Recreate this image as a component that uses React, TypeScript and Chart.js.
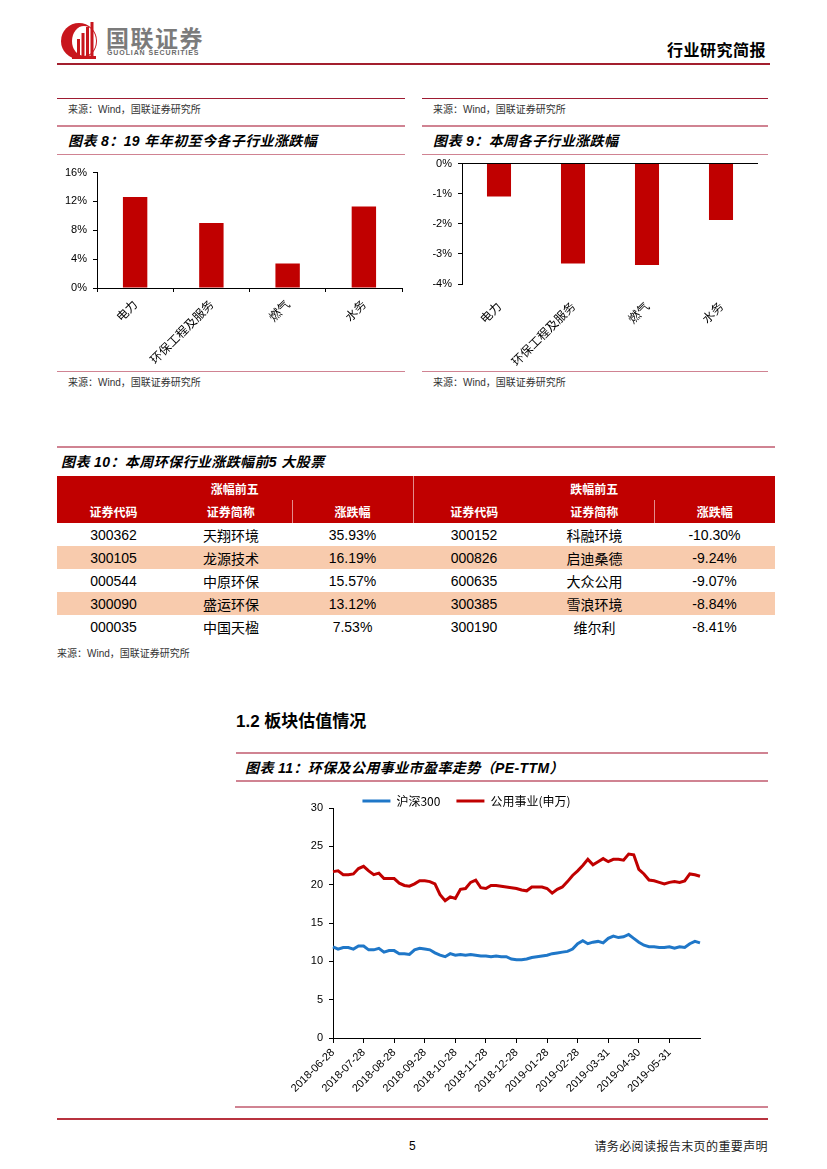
import React, { useEffect, useRef } from 'react';
import { Chart, registerables } from 'chart.js';

Chart.register(...registerables);

const LATIN = '"Liberation Sans", Arial, sans-serif';
const CJK = '"Noto Sans CJK SC", "Liberation Sans", sans-serif';
const MIX = '"Liberation Sans", Arial, "Noto Sans CJK SC", sans-serif';

// ---------- Figure 8: YTD change by sub-industry (%) ----------
const ytdCategories = ['电力', '环保工程及服务', '燃气', '水务'];
const ytdChange = [12.6, 9.0, 3.4, 11.3];

// ---------- Figure 9: this week change by sub-industry (%) ----------
const weekCategories = ['电力', '环保工程及服务', '燃气', '水务'];
const weekChange = [-1.09, -3.32, -3.37, -1.87];

// ---------- Figure 10: top 5 gainers / losers ----------
const gainCodes = ['300362', '300105', '000544', '300090', '000035'];
const gainNames = ['天翔环境', '龙源技术', '中原环保', '盛运环保', '中国天楹'];
const gainPct = ['35.93%', '16.19%', '15.57%', '13.12%', '7.53%'];
const lossCodes = ['300152', '000826', '600635', '300385', '300190'];
const lossNames = ['科融环境', '启迪桑德', '大众公用', '雪浪环境', '维尔利'];
const lossPct = ['-10.30%', '-9.24%', '-9.07%', '-8.84%', '-8.41%'];

// ---------- Figure 11: PE-TTM ----------
const peTickDates = [
  '2018-06-28', '2018-07-28', '2018-08-28', '2018-09-28', '2018-10-28', '2018-11-28',
  '2018-12-28', '2019-01-28', '2019-02-28', '2019-03-31', '2019-04-30', '2019-05-31',
];
const POINTS_PER_TICK = 6;
const hs300PE = [
  11.9, 11.6, 11.8, 11.8, 11.6, 12.0, 12.0, 11.5, 11.5, 11.7,
  11.2, 11.4, 11.4, 11.0, 11.0, 10.9, 11.5, 11.7, 11.6, 11.5,
  11.1, 10.8, 10.6, 11.0, 10.8, 10.9, 10.8, 10.9, 10.8, 10.7,
  10.7, 10.6, 10.7, 10.6, 10.6, 10.3, 10.2, 10.2, 10.3, 10.5,
  10.6, 10.7, 10.8, 11.0, 11.1, 11.2, 11.3, 11.6, 12.3, 12.7,
  12.3, 12.5, 12.6, 12.4, 13.0, 13.3, 13.1, 13.2, 13.5, 13.0,
  12.5, 12.1, 11.9, 11.9, 11.8, 11.8, 11.9, 11.7, 11.9, 11.8,
  12.3, 12.6, 12.4,
];
const utilitiesPE = [
  21.7, 21.8, 21.3, 21.3, 21.4, 22.1, 22.4, 21.8, 21.3, 21.5,
  20.8, 20.8, 20.8, 20.2, 19.9, 19.8, 20.1, 20.5, 20.5, 20.4,
  20.1, 18.7, 17.9, 18.4, 18.2, 19.4, 19.5, 20.3, 20.6, 19.6,
  19.5, 19.9, 19.9, 19.8, 19.7, 19.6, 19.5, 19.3, 19.2, 19.7,
  19.7, 19.7, 19.5, 18.9, 19.4, 19.7, 20.4, 21.2, 21.8, 22.5,
  23.3, 22.6, 23.0, 23.4, 23.0, 23.3, 23.3, 23.2, 24.0, 23.9,
  22.0, 21.4, 20.6, 20.5, 20.3, 20.1, 20.3, 20.4, 20.3, 20.5,
  21.4, 21.3, 21.1,
];
const peLabels = hs300PE.map((_, i) =>
  i % POINTS_PER_TICK === 0 && peTickDates[i / POINTS_PER_TICK] ? peTickDates[i / POINTS_PER_TICK] : ''
);

const RED = '#C00000';
const BLUE = '#1F77C8';
const PINK = '#D08392';
const MAROON = '#9E1B32';

function ChartBox(props: { make: () => any; left: number; top: number; width: number; height: number }) {
  const ref = useRef<HTMLCanvasElement | null>(null);
  useEffect(() => {
    const chart = new Chart(ref.current as HTMLCanvasElement, props.make());
    return () => chart.destroy();
  }, []);
  return (
    <canvas
      ref={ref}
      width={props.width}
      height={props.height}
      style={{ position: 'absolute', left: props.left, top: props.top, width: props.width, height: props.height }}
    />
  );
}

const ytdConfig = () => ({
  type: 'bar',
  data: {
    labels: ytdCategories,
    datasets: [{ data: ytdChange, backgroundColor: RED, categoryPercentage: 1, barPercentage: 0.32 }],
  },
  options: {
    animation: false,
    responsive: false,
    maintainAspectRatio: false,
    layout: { padding: { top: 12, right: 3, left: 0, bottom: 0 } },
    plugins: { legend: { display: false }, tooltip: { enabled: false } },
    scales: {
      x: {
        grid: { offset: true, drawOnChartArea: false, tickLength: 4, color: '#000' },
        border: { color: '#000' },
        ticks: { minRotation: 45, maxRotation: 45, color: '#000', font: { family: CJK, size: 12 }, padding: 5 },
        afterFit: (s: any) => { s.height = 80; },
      },
      y: {
        min: 0,
        max: 16,
        ticks: { stepSize: 4, callback: (v: any) => v + '%', color: '#000', font: { family: LATIN, size: 11 }, padding: 6 },
        grid: { drawOnChartArea: false, tickLength: 4, color: '#000' },
        border: { color: '#000' },
        afterFit: (s: any) => { s.width = 40; },
      },
    },
  },
});

const weekConfig = () => ({
  type: 'bar',
  data: {
    labels: weekCategories,
    datasets: [{ data: weekChange, backgroundColor: RED, categoryPercentage: 1, barPercentage: 0.325 }],
  },
  options: {
    animation: false,
    responsive: false,
    maintainAspectRatio: false,
    layout: { padding: { top: 0, right: 10, left: 0, bottom: 0 } },
    plugins: { legend: { display: false }, tooltip: { enabled: false } },
    scales: {
      x: {
        grid: { display: false, drawTicks: false },
        border: { display: false },
        ticks: { minRotation: 45, maxRotation: 45, color: '#000', font: { family: CJK, size: 12 }, padding: 15 },
        afterFit: (s: any) => { s.height = 84; },
      },
      y: {
        min: -4,
        max: 0,
        ticks: { stepSize: 1, callback: (v: any) => v + '%', color: '#000', font: { family: LATIN, size: 11 }, padding: 6 },
        grid: {
          drawOnChartArea: true,
          tickLength: 4,
          color: (ctx: any) => (ctx.tick && ctx.tick.value === 0 ? '#000' : 'rgba(0,0,0,0)'),
          tickColor: '#000',
        },
        border: { color: '#000' },
        afterFit: (s: any) => { s.width = 40; },
      },
    },
  },
});

const peConfig = () => ({
  type: 'line',
  data: {
    labels: peLabels,
    datasets: [
      { label: '沪深300', data: hs300PE, borderColor: BLUE, backgroundColor: BLUE, borderWidth: 3, pointRadius: 0, tension: 0 },
      { label: '公用事业(申万)', data: utilitiesPE, borderColor: RED, backgroundColor: RED, borderWidth: 3, pointRadius: 0, tension: 0 },
    ],
  },
  options: {
    animation: false,
    responsive: false,
    maintainAspectRatio: false,
    layout: { padding: { top: 0, right: 68, left: 0, bottom: 0 } },
    plugins: {
      tooltip: { enabled: false },
      legend: {
        display: true,
        position: 'top',
        maxHeight: 29,
        labels: {
          usePointStyle: true,
          pointStyle: 'line',
          pointStyleWidth: 28,
          padding: 16,
          color: '#000',
          font: { family: CJK, size: 12 },
        },
      },
    },
    scales: {
      x: {
        grid: {
          drawOnChartArea: false,
          tickLength: 5,
          color: (ctx: any) => (peLabels[ctx.index] ? '#000' : 'rgba(0,0,0,0)'),
        },
        border: { color: '#000' },
        ticks: { autoSkip: false, minRotation: 45, maxRotation: 45, color: '#000', font: { family: LATIN, size: 11 }, padding: 3 },
        afterFit: (s: any) => { s.height = 62; },
      },
      y: {
        min: 0,
        max: 30,
        ticks: { stepSize: 5, color: '#000', font: { family: LATIN, size: 11 }, padding: 6 },
        grid: { drawOnChartArea: false, tickLength: 4, color: '#000' },
        border: { color: '#000' },
        afterFit: (s: any) => { s.width = 100; },
      },
    },
  },
});

function HLine(p: { x: number; y: number; w: number; h?: number; c: string }) {
  return <div style={{ position: 'absolute', left: p.x, top: p.y, width: p.w, height: p.h ?? 1, background: p.c }} />;
}

function Txt(p: { x: number; cy: number; size: number; children: any; style?: any; right?: boolean }) {
  const pos: any = p.right ? { right: 827 - p.x } : { left: p.x };
  return (
    <div
      style={{
        position: 'absolute',
        ...pos,
        top: p.cy - p.size,
        lineHeight: `${p.size * 2}px`,
        fontSize: p.size,
        whiteSpace: 'nowrap',
        color: '#000',
        ...(p.style || {}),
      }}
    >
      {p.children}
    </div>
  );
}

const SOURCE = '来源：Wind，国联证券研究所';

function Logo() {
  return (
    <svg width="42" height="42" viewBox="0 0 42 42" style={{ position: 'absolute', left: 60, top: 19 }}>
      <circle cx="19" cy="22" r="18" fill="#C8161D" />
      <ellipse cx="24" cy="22" rx="12" ry="15" fill="#fff" />
      <rect x="17" y="20" width="3" height="17" fill="#C8161D" />
      <rect x="21.5" y="14" width="3" height="23" fill="#C8161D" />
      <rect x="26" y="8" width="3" height="29" fill="#C8161D" />
      <rect x="30.5" y="3" width="3" height="34" fill="#C8161D" />
      <rect x="12" y="37" width="24" height="3" fill="#C8161D" />
    </svg>
  );
}

function StockTable() {
  const widths = [113, 122, 121, 122, 119, 121];
  const sep = '1px solid rgba(255,255,255,0.55)';
  const th: any = { padding: 0, color: '#fff', fontFamily: CJK, fontSize: 12, fontWeight: 700, textAlign: 'center', height: 23 };
  const td: any = { padding: 0, fontSize: 14, textAlign: 'center', height: 23, color: '#000' };
  return (
    <table
      style={{
        position: 'absolute',
        left: 57,
        top: 476,
        width: 718,
        borderCollapse: 'collapse',
        tableLayout: 'fixed',
        borderSpacing: 0,
      }}
    >
      <colgroup>
        {widths.map((w, i) => (
          <col key={i} style={{ width: w }} />
        ))}
      </colgroup>
      <tbody>
        <tr style={{ background: RED }}>
          <th colSpan={3} style={{ ...th, height: 24, borderRight: sep }}>涨幅前五</th>
          <th colSpan={3} style={{ ...th, height: 24 }}>跌幅前五</th>
        </tr>
        <tr style={{ background: RED }}>
          <th style={th}>证券代码</th>
          <th style={{ ...th, borderRight: sep }}>证券简称</th>
          <th style={{ ...th, borderRight: sep }}>涨跌幅</th>
          <th style={th}>证券代码</th>
          <th style={{ ...th, borderRight: sep }}>证券简称</th>
          <th style={th}>涨跌幅</th>
        </tr>
        {gainCodes.map((code, i) => (
          <tr key={code} style={{ background: i % 2 === 1 ? '#F8CBAD' : '#fff' }}>
            <td style={{ ...td, fontFamily: LATIN }}>{code}</td>
            <td style={{ ...td, fontFamily: CJK }}>{gainNames[i]}</td>
            <td style={{ ...td, fontFamily: LATIN }}>{gainPct[i]}</td>
            <td style={{ ...td, fontFamily: LATIN }}>{lossCodes[i]}</td>
            <td style={{ ...td, fontFamily: CJK }}>{lossNames[i]}</td>
            <td style={{ ...td, fontFamily: LATIN }}>{lossPct[i]}</td>
          </tr>
        ))}
      </tbody>
    </table>
  );
}

export default function App() {
  const titleStyle = { fontFamily: MIX, fontWeight: 700, fontStyle: 'italic', letterSpacing: 0.4 };
  const srcStyle = { fontFamily: MIX, color: '#333' };
  return (
    <div
      style={{
        position: 'absolute',
        left: 0,
        top: 0,
        width: 827,
        height: 1169,
        background: '#fff',
        overflow: 'hidden',
        fontFamily: MIX,
      }}
    >
      {/* Header */}
      <Logo />
      <Txt x={106} cy={37} size={23} style={{ fontFamily: CJK, fontWeight: 700, color: '#7b7b7b', letterSpacing: 1.5 }}>
        国联证券
      </Txt>
      <Txt x={107} cy={53} size={7} style={{ fontFamily: LATIN, fontWeight: 700, color: '#6b6b6b', letterSpacing: 0.9 }}>
        GUOLIAN SECURITIES
      </Txt>
      <Txt x={766} cy={49} size={16} right style={{ fontFamily: CJK, fontWeight: 700, letterSpacing: 0.5 }}>
        行业研究简报
      </Txt>
      <HLine x={57} y={63} w={713} h={2} c="#A31F2E" />

      {/* Left panel: figure 8 */}
      <HLine x={57} y={98} w={348} c={MAROON} />
      <Txt x={68} cy={110} size={10} style={srcStyle}>{SOURCE}</Txt>
      <HLine x={57} y={125} w={348} h={2} c={PINK} />
      <Txt x={68} cy={141} size={14} style={titleStyle}>图表 8：19 年年初至今各子行业涨跌幅</Txt>
      <HLine x={57} y={154} w={348} c={PINK} />
      <ChartBox make={ytdConfig} left={57} top={160} width={348} height={208} />
      <HLine x={57} y={371} w={348} c={PINK} />
      <Txt x={68} cy={383} size={10} style={srcStyle}>{SOURCE}</Txt>

      {/* Right panel: figure 9 */}
      <HLine x={422} y={98} w={346} c={MAROON} />
      <Txt x={433} cy={110} size={10} style={srcStyle}>{SOURCE}</Txt>
      <HLine x={422} y={125} w={346} h={2} c={PINK} />
      <Txt x={433} cy={141} size={14} style={titleStyle}>图表 9：本周各子行业涨跌幅</Txt>
      <HLine x={422} y={154} w={346} c={PINK} />
      <ChartBox make={weekConfig} left={422} top={151} width={346} height={217} />
      <HLine x={422} y={371} w={346} c={PINK} />
      <Txt x={433} cy={383} size={10} style={srcStyle}>{SOURCE}</Txt>

      {/* Figure 10 table */}
      <HLine x={57} y={446} w={718} h={2} c={PINK} />
      <Txt x={61} cy={462} size={14} style={titleStyle}>图表 10：本周环保行业涨跌幅前5 大股票</Txt>
      <StockTable />
      <Txt x={57} cy={654} size={10} style={srcStyle}>{SOURCE}</Txt>

      {/* Section 1.2 */}
      <Txt x={236} cy={722} size={17} style={{ fontFamily: MIX, fontWeight: 700 }}>1.2 板块估值情况</Txt>
      <HLine x={236} y={752} w={532} h={2} c={PINK} />
      <Txt x={245} cy={768} size={14} style={titleStyle}>图表 11：环保及公用事业市盈率走势（PE-TTM）</Txt>
      <HLine x={236} y={780} w={532} h={2} c={PINK} />
      <ChartBox make={peConfig} left={233} top={779} width={535} height={321} />
      <HLine x={235} y={1106} w={533} h={2} c={PINK} />

      {/* Footer */}
      <HLine x={57} y={1118} w={711} h={2} c="#B8333F" />
      <Txt x={409} cy={1146} size={12} style={{ fontFamily: LATIN }}>5</Txt>
      <Txt x={768} cy={1146} size={12} right style={{ fontFamily: CJK, color: '#222', letterSpacing: 0.4 }}>
        请务必阅读报告末页的重要声明
      </Txt>
    </div>
  );
}
